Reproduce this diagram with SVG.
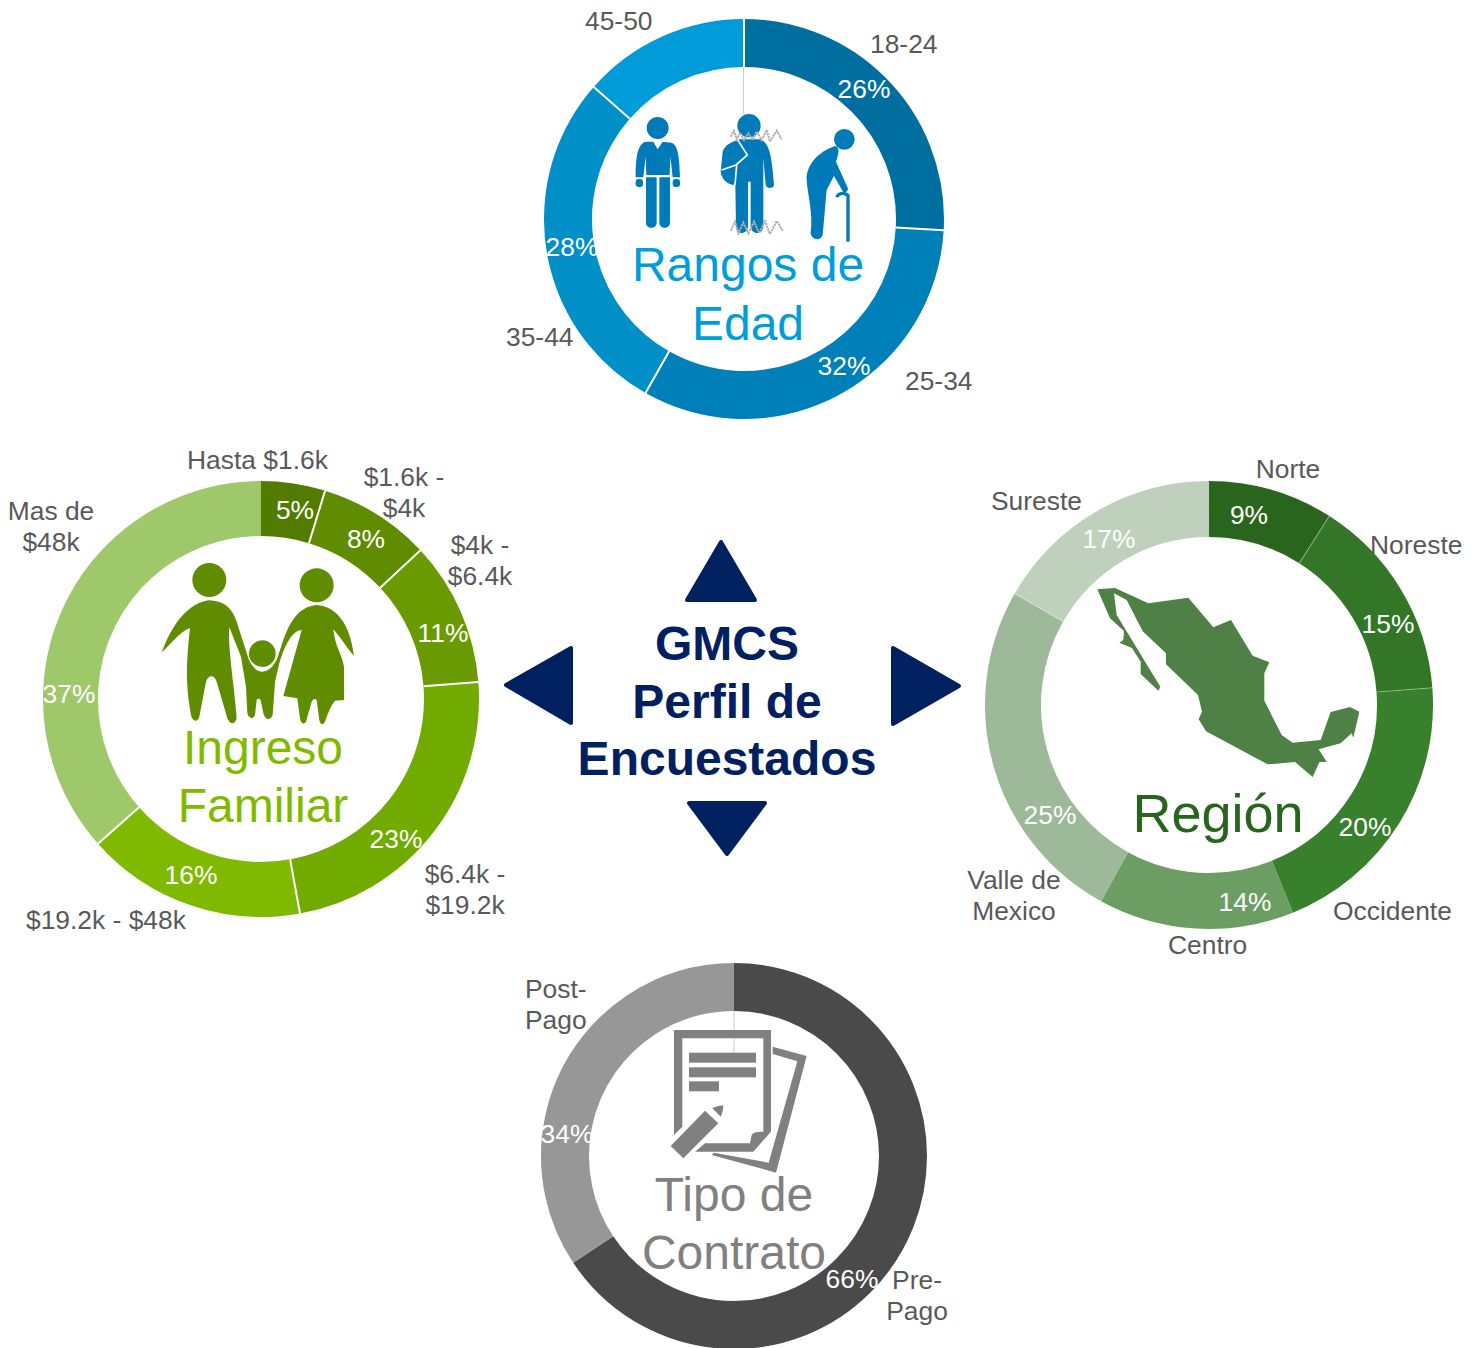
<svg xmlns="http://www.w3.org/2000/svg" width="1479" height="1348" viewBox="0 0 1479 1348">
<style>
text{font-family:"Liberation Sans",Arial,sans-serif}
.l{font-size:26.4px;fill:#595959}
.p{font-size:26.4px;fill:#fff;text-anchor:middle}
.m{text-anchor:middle}
.t{font-size:48px;text-anchor:middle}
.c{font-size:48px;font-weight:700;fill:#002060;text-anchor:middle}
.s{fill:none}
.d1 .s{stroke-width:48}
.d2 .s{stroke-width:55}
.d3 .s{stroke-width:56}
.d4 .s{stroke-width:48}
.sep{stroke:#fff;stroke-width:2}
.faint{stroke:#fff;stroke-width:1;stroke-opacity:.35}
.arrow{fill:#002060;stroke:#002060;stroke-width:4;stroke-linejoin:round}
.guide{stroke:#c8d0d4;stroke-width:1}
</style>
<rect width="1479" height="1348" fill="#fff"/>
<g id="rangos-de-edad" class="d1">
<g transform="rotate(-90 744 219)">
<circle class="s" cx="744" cy="219" r="176" pathLength="360" stroke="#006e9e" stroke-dasharray="93.2 266.8"/>
<circle class="s" cx="744" cy="219" r="176" pathLength="360" stroke="#0080b8" stroke-dasharray="116.3 243.7" transform="rotate(93.2 744 219)"/>
<circle class="s" cx="744" cy="219" r="176" pathLength="360" stroke="#008fc6" stroke-dasharray="101.8 258.2" transform="rotate(209.5 744 219)"/>
<circle class="s" cx="744" cy="219" r="176" pathLength="360" stroke="#009bd8" stroke-dasharray="48.7 311.3" transform="rotate(311.3 744 219)"/>
</g>
<g class="seps">
<line class="sep" x1="744" y1="67" x2="744" y2="19"/>
<line class="sep" x1="744" y1="67" x2="744" y2="19" transform="rotate(93.2 744 219)"/>
<line class="sep" x1="744" y1="67" x2="744" y2="19" transform="rotate(209.5 744 219)"/>
<line class="sep" x1="744" y1="67" x2="744" y2="19" transform="rotate(311.3 744 219)"/>
</g>
<line class="guide" x1="743.5" y1="67" x2="743.5" y2="114"/>
<g transform="translate(600 90) scale(.33333)" fill="#007ab8">
<circle cx="173" cy="114" r="33"/>
<path d="M135,155 L160,155 L173,178 L188,155 L215,158 C232,165 238,190 240,262 L218,262 L211,200 L209,255 L139,255 L137,200 L130,262 L107,262 C107,190 115,165 135,155Z"/>
<rect x="107" y="267" width="22" height="24" rx="9"/>
<rect x="218" y="267" width="22" height="24" rx="9"/>
<path d="M138,262 L170,262 L170,398 C170,418 138,418 138,398Z"/>
<path d="M178,262 L210,262 L210,398 C210,418 178,418 178,398Z"/>
<circle cx="447" cy="107" r="35"/>
<path d="M420,148 L478,148 C505,155 515,185 522,285 C520,297 500,297 497,285 L490,205 L490,410 C488,435 455,435 452,410 L452,275 L444,275 L444,410 C440,435 410,435 408,410 L406,285 C385,285 365,270 362,245 L368,185 C375,165 395,155 420,148Z"/>
<path d="M412,148 L442,195 L408,225 L365,240 M410,225 L405,285" fill="none" stroke="#fff" stroke-width="5"/>
<path d="M392,140 L402,122 L410,148 L420,128 L432,150 L445,130 L458,150 L470,125 L485,150 L500,120 L510,155 L530,122 L545,148 M392,422 L405,395 L415,430 L430,398 L445,430 L462,395 L478,430 L495,393 L510,432 L530,393 L548,422" fill="none" stroke="#b0b0b0" stroke-width="6" stroke-dasharray="7 2"/>
<circle cx="733" cy="148" r="31"/>
<path d="M705,168 C722,172 715,195 708,215 L745,298 L733,312 L702,258 L680,300 L668,435 C660,455 635,450 632,430 C640,370 622,310 620,270 C618,225 655,185 705,168Z"/>
<path d="M711,322 C713,310 730,306 744,316 L744,455" fill="none" stroke="#007ab8" stroke-width="10"/>
</g>
<text class="t" x="748" y="281" fill="#009ddc">Rangos de</text>
<text class="t" x="748" y="340" fill="#009ddc">Edad</text>
<text class="l" x="585" y="30">45-50</text>
<text class="l" x="870" y="53">18-24</text>
<text class="l" x="506" y="346">35-44</text>
<text class="l" x="905" y="390">25-34</text>
<text class="p" x="864" y="98">26%</text>
<text class="p" x="572" y="256">28%</text>
<text class="p" x="844" y="375">32%</text>
</g>
<g id="ingreso-familiar" class="d2">
<g transform="rotate(-90 261 699)">
<circle class="s" cx="261" cy="699" r="190.5" pathLength="360" stroke="#537b00" stroke-dasharray="17.1 342.9"/>
<circle class="s" cx="261" cy="699" r="190.5" pathLength="360" stroke="#5f8c00" stroke-dasharray="29.9 330.1" transform="rotate(17.1 261 699)"/>
<circle class="s" cx="261" cy="699" r="190.5" pathLength="360" stroke="#699b00" stroke-dasharray="38.5 321.5" transform="rotate(47 261 699)"/>
<circle class="s" cx="261" cy="699" r="190.5" pathLength="360" stroke="#72ab00" stroke-dasharray="84.2 275.8" transform="rotate(85.5 261 699)"/>
<circle class="s" cx="261" cy="699" r="190.5" pathLength="360" stroke="#7fba00" stroke-dasharray="58.7 301.3" transform="rotate(169.7 261 699)"/>
<circle class="s" cx="261" cy="699" r="190.5" pathLength="360" stroke="#9fc86b" stroke-dasharray="131.6 228.4" transform="rotate(228.4 261 699)"/>
</g>
<g class="seps">
<line class="sep" x1="261" y1="536" x2="261" y2="481" transform="rotate(17.1 261 699)"/>
<line class="sep" x1="261" y1="536" x2="261" y2="481" transform="rotate(47 261 699)"/>
<line class="sep" x1="261" y1="536" x2="261" y2="481" transform="rotate(85.5 261 699)"/>
<line class="sep" x1="261" y1="536" x2="261" y2="481" transform="rotate(169.7 261 699)"/>
<line class="sep" x1="261" y1="536" x2="261" y2="481" transform="rotate(228.4 261 699)"/>
</g>
<g transform="translate(140 550) scale(.33333)" fill="#5f8c00">
<circle cx="208" cy="90" r="51"/>
<circle cx="530" cy="106" r="51"/>
<circle cx="367" cy="311" r="40"/>
<path d="M65,308 C85,255 125,165 205,151 C265,153 283,185 298,240 L325,325 C335,350 350,365 368,365 C385,365 400,350 412,325 L425,285 C445,225 470,170 530,165 C590,170 630,220 642,318 C625,300 600,260 580,238 C585,290 605,310 612,350 L612,450 L585,452 C570,470 560,500 555,515 C550,525 540,525 538,510 L530,450 C525,445 520,445 515,455 L498,515 C490,525 482,520 480,505 L472,445 L430,438 L485,240 C460,240 435,280 418,340 L405,395 L398,495 C392,512 375,512 370,490 L362,450 C358,445 352,445 350,450 L345,495 C340,510 325,505 322,490 L318,410 L303,320 L268,232 C262,290 285,420 290,505 C285,525 270,525 262,505 L230,395 C222,372 205,375 198,395 L178,500 C172,520 155,515 152,490 C135,400 140,320 150,235 C125,240 90,285 65,308Z"/>
</g>
<text class="t" x="263" y="764" fill="#7fba00">Ingreso</text>
<text class="t" x="263" y="822" fill="#7fba00">Familiar</text>
<text class="l" x="187" y="469">Hasta $1.6k</text>
<text class="l m" x="404" y="486">$1.6k -</text>
<text class="l m" x="404" y="517">$4k</text>
<text class="l m" x="480" y="554">$4k -</text>
<text class="l m" x="480" y="585">$6.4k</text>
<text class="l m" x="51" y="520">Mas de</text>
<text class="l m" x="51" y="551">$48k</text>
<text class="l m" x="465" y="883">$6.4k -</text>
<text class="l m" x="465" y="914">$19.2k</text>
<text class="l" x="26" y="929">$19.2k - $48k</text>
<text class="p" x="295" y="519">5%</text>
<text class="p" x="366" y="548">8%</text>
<text class="p" x="443" y="642">11%</text>
<text class="p" x="396" y="848">23%</text>
<text class="p" x="191" y="884">16%</text>
<text class="p" x="69" y="703">37%</text>
</g>
<g id="region" class="d3">
<g transform="rotate(-90 1209 705)">
<circle class="s" cx="1209" cy="705" r="196" pathLength="360" stroke="#2a651d" stroke-dasharray="32.5 327.5"/>
<circle class="s" cx="1209" cy="705" r="196" pathLength="360" stroke="#347627" stroke-dasharray="53.1 306.9" transform="rotate(32.5 1209 705)"/>
<circle class="s" cx="1209" cy="705" r="196" pathLength="360" stroke="#38802b" stroke-dasharray="72.4 287.6" transform="rotate(85.6 1209 705)"/>
<circle class="s" cx="1209" cy="705" r="196" pathLength="360" stroke="#6c9e64" stroke-dasharray="50.8 309.2" transform="rotate(158 1209 705)"/>
<circle class="s" cx="1209" cy="705" r="196" pathLength="360" stroke="#9eb99a" stroke-dasharray="91 269" transform="rotate(208.8 1209 705)"/>
<circle class="s" cx="1209" cy="705" r="196" pathLength="360" stroke="#bfd0bc" stroke-dasharray="60.2 299.8" transform="rotate(299.8 1209 705)"/>
</g>
<g class="seps">
<line class="faint" x1="1209" y1="537" x2="1209" y2="481" transform="rotate(32.5 1209 705)"/>
<line class="faint" x1="1209" y1="537" x2="1209" y2="481" transform="rotate(85.6 1209 705)"/>
<line class="faint" x1="1209" y1="537" x2="1209" y2="481" transform="rotate(299.8 1209 705)"/>
</g>
<polygon transform="translate(1080 570) scale(.33333)" fill="#4f8045" points="52,58 105,54 205,100 325,83 400,172 453,150 518,257 568,277 553,310 553,392 605,495 638,518 722,510 752,426 810,411 838,425 820,503 815,490 782,520 716,538 740,575 718,577 698,621 645,576 563,583 378,484 356,448 366,425 354,375 258,283 258,250 188,184 140,90 102,70 110,135 241,350 235,362 182,312 182,275 156,234 118,218 130,210 132,183 90,145"/>
<text x="1218" y="832" font-size="54" fill="#27651d" text-anchor="middle">Región</text>
<text class="l m" x="1288" y="478">Norte</text>
<text class="l" x="1370" y="554">Noreste</text>
<text class="l" x="1333" y="920">Occidente</text>
<text class="l" x="1168" y="954">Centro</text>
<text class="l m" x="1014" y="889">Valle de</text>
<text class="l m" x="1014" y="920">Mexico</text>
<text class="l" x="991" y="510">Sureste</text>
<text class="p" x="1249" y="524">9%</text>
<text class="p" x="1388" y="633">15%</text>
<text class="p" x="1365" y="836">20%</text>
<text class="p" x="1245" y="911">14%</text>
<text class="p" x="1050" y="824">25%</text>
<text class="p" x="1109" y="548">17%</text>
</g>
<g id="tipo-de-contrato" class="d4">
<g transform="rotate(-90 734 1156)">
<circle class="s" cx="734" cy="1156" r="169" pathLength="360" stroke="#4a4a4a" stroke-dasharray="236.4 123.6"/>
<circle class="s" cx="734" cy="1156" r="169" pathLength="360" stroke="#979797" stroke-dasharray="123.6 236.4" transform="rotate(236.4 734 1156)"/>
</g>
<line class="guide" x1="734" y1="1011" x2="734" y2="1054"/>
<g transform="translate(650 1020) scale(.33333)" fill="#808080">
<path d="M72,30 L363,30 L363,335 L310,395 L135,395 L165,370 L300,370 L305,345 C310,335 325,335 340,335 L340,55 L97,55 L97,320 L72,345Z"/>
<rect x="117" y="98" width="201" height="30"/>
<rect x="117" y="142" width="201" height="30"/>
<rect x="117" y="184" width="90" height="30"/>
<path d="M165,272 L205,310 L100,415 L62,378Z"/>
<path d="M187,265 C200,258 210,256 220,257 C220,270 216,280 212,290Z"/>
<path d="M368,80 L470,108 L378,458 L185,405 L192,398 L356,428 L442,124 L368,102Z"/>
</g>
<text class="t" x="734" y="1211" fill="#808080">Tipo de</text>
<text class="t" x="734" y="1269" fill="#808080">Contrato</text>
<text class="l" x="525" y="998">Post-</text>
<text class="l" x="525" y="1029">Pago</text>
<text class="l m" x="917" y="1289">Pre-</text>
<text class="l m" x="917" y="1320">Pago</text>
<text class="p" x="567" y="1143">34%</text>
<text class="p" x="852" y="1288">66%</text>
</g>
<g id="gmcs-perfil">
<text class="c" x="727" y="660">GMCS</text>
<text class="c" x="727" y="718">Perfil de</text>
<text class="c" x="727" y="775">Encuestados</text>
</g>
<g id="connectors">
<polygon class="arrow" points="721,542 755,600 687,600"/>
<polygon class="arrow" points="506,685 571,648 571,723"/>
<polygon class="arrow" points="959,686 893,648 893,724"/>
<polygon class="arrow" points="727,854 689,803 765,803"/>
</g>
</svg>
